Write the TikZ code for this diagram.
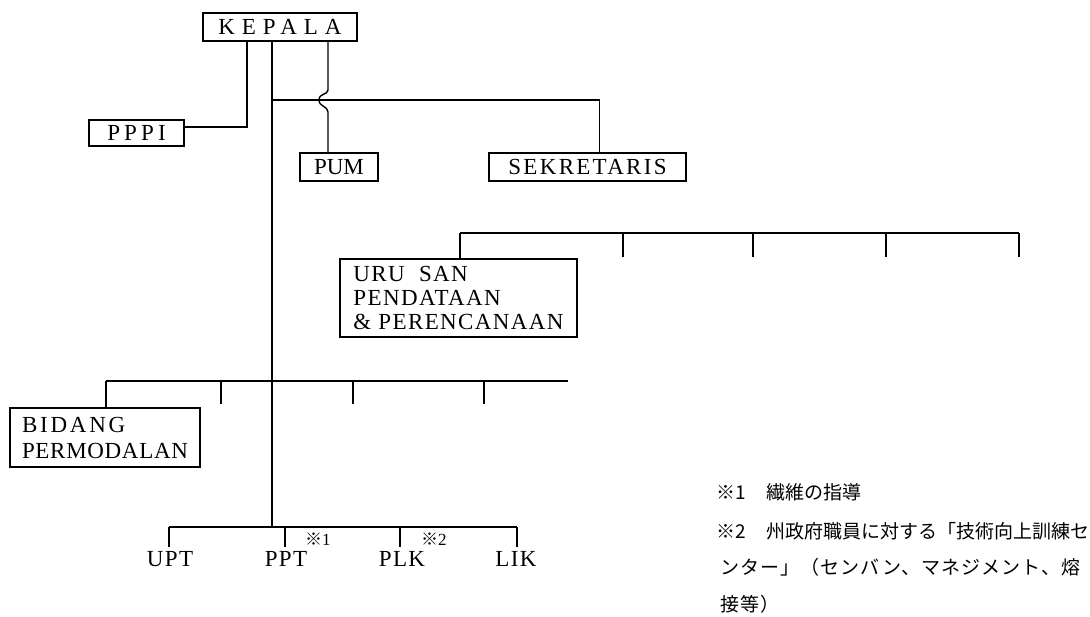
\documentclass[tikz,border=0pt]{standalone}
\usepackage{fontspec}
\setmainfont{Liberation Serif}
\newfontfamily\jp{Noto Sans CJK JP}
\newcommand{\ls}[1]{\addfontfeature{LetterSpace=#1}}
\begin{document}
\begin{tikzpicture}[x=1pt,y=-1pt,
  every node/.style={inner sep=0pt, outer sep=0pt},
  box/.style={draw, line width=1.4pt, font=\fontsize{23}{24}\selectfont},
  ln/.style={line width=1.4pt},
  lbl/.style={font=\fontsize{23}{24}\selectfont},
  mk/.style={font=\fontsize{17}{19}\selectfont},
  note/.style={anchor=west, font=\jp\fontsize{19}{22}\selectfont}]
\useasboundingbox (0,0) rectangle (1090,616);

% boxes
\node[box, minimum width=154pt, minimum height=28pt] (kepala) at (280,27) {\ls{30}KEPALA};
\node[box, minimum width=95pt, minimum height=26pt] (pppi) at (136.5,133) {\ls{18}PPPI};
\node[box, minimum width=78pt, minimum height=28pt] (pum) at (339,167) {PUM};
\node[box, minimum width=197pt, minimum height=28pt] (sek) at (587.5,167) {\ls{10}SEKRETARIS};
\node[box, minimum width=237pt, minimum height=78pt, align=left] (uru) at (458.5,298)
  {\ls{6}URU\ \ SAN\\\ls{6}PENDATAAN\\\ls{6}\& PERENCANAAN};
\node[box, minimum width=190pt, minimum height=59pt, align=left,
  font=\fontsize{23}{26}\selectfont] (bidang) at (105,437.5)
  {\ls{12}BIDANG\\\ls{3}PERMODALAN};

% bottom labels
\node[lbl] (upt) at (170,559) {\ls{6}UPT};
\node[lbl] (ppt) at (286,559) {\ls{6}PPT};
\node[lbl] (plk) at (402,559) {\ls{6}PLK};
\node[lbl] (lik) at (516,559) {\ls{6}LIK};
\node[mk, anchor=west] (m1) at (305,539) {{\jp ※}1};
\node[mk, anchor=west] (m2) at (421,539) {{\jp ※}2};

% junction coordinates
\coordinate (pp) at ([xshift=44pt]kepala.south west);
\coordinate (m) at ([xshift=69pt]kepala.south west);
\coordinate (p0) at ([xshift=125pt]kepala.south west);
\coordinate (h1) at (272,100);
\coordinate (mb) at (272,527);

% KEPALA connectors
\draw[ln] (pp) |- ([yshift=6pt]pppi.east);
\draw[ln] (m) -- (mb);
\draw[ln] (h1) -| ([xshift=12pt]sek.north);
\draw[ln] (p0) -- (328,90) .. controls (328,95) and (319,93) .. (319,100)
  .. controls (319,107) and (328,106) .. (328,112) -- ([xshift=-11pt]pum.north);

% upper bus
\coordinate (u1) at (460,233);
\coordinate (u5) at (1019,233);
\draw[ln] (u1) -- (u5);
\draw[ln] (u1) -- (u1 |- uru.north);
\foreach \x in {623,753,886,1019} \draw[ln] (\x,233) -- (\x,257);

% middle bus
\coordinate (b1) at (106,381);
\coordinate (b5) at (568,381);
\draw[ln] (b1) -- (b5);
\draw[ln] (b1) -- (b1 |- bidang.north);
\foreach \x in {221,353,484} \draw[ln] (\x,381) -- (\x,404);

% bottom bus
\coordinate (c1) at (169,527);
\coordinate (c4) at (517,527);
\draw[ln] (c1) -- (c4);
\draw[ln] (c1) -- ([yshift=4pt]upt.north -| c1);
\draw[ln] (285,527) -- ([yshift=4pt]ppt.north -| 285,0);
\draw[ln] (400,527) -- ([yshift=4pt]plk.north -| 400,0);
\draw[ln] (c4) -- ([yshift=4pt]lik.north -| c4);

% notes
\node[note] (n1a) at (716,492) {※1};
\node[note] (n1b) at (766,492) {繊維の指導};
\node[note] (n2a) at (716,531) {※2};
\node[note] (n2b) at (766,531) {州政府職員に対する「技術向上訓練セ};
\node[note] (n3) at (720,567) {\ls{6}ンター」（センバン、マネジメント、熔};
\node[note] (n4) at (720,604) {\ls{6}接等）};
\end{tikzpicture}
\end{document}
